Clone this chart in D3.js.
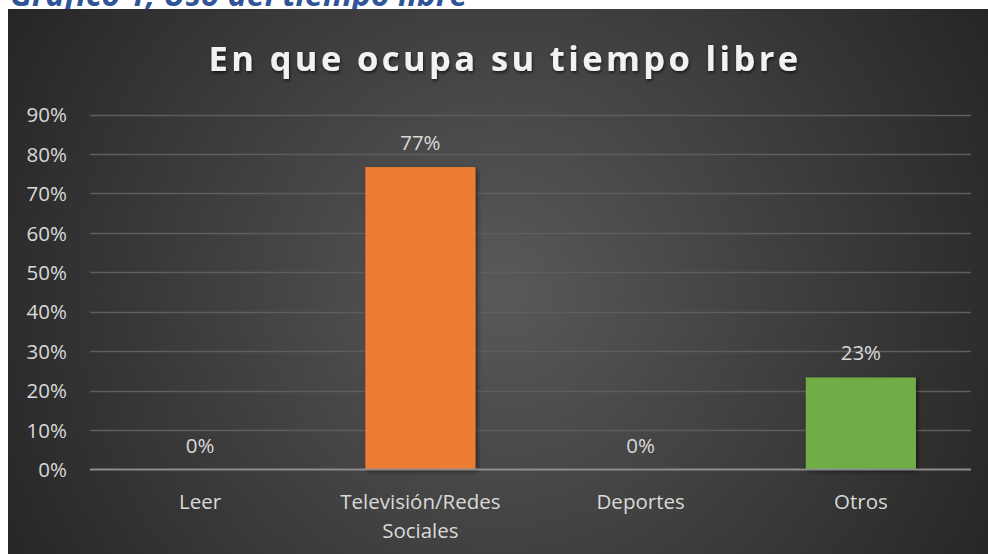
<!DOCTYPE html>
<html><head><meta charset="utf-8">
<script src="https://cdn.jsdelivr.net/npm/d3@7"></script>
<style>body{margin:0;background:#fff;}svg{display:block;}</style>
</head><body>
<script>
const categories = ["Leer", "Televisión/Redes Sociales", "Deportes", "Otros"];
const values = [0, 0.7667, 0, 0.2333];
const labels = ["0%", "77%", "0%", "23%"];
const colors = ["#4472C4", "#ED7D31", "#A5A5A5", "#70AD47"];
const yTicks = [0, 0.1, 0.2, 0.3, 0.4, 0.5, 0.6, 0.7, 0.8, 0.9];
const chartTitle = "En que ocupa su tiempo libre";
const caption = "Gráfico 1, Uso del tiempo libre";

const W = 988, H = 554;
const svg = d3.select("body").append("svg").attr("width", W).attr("height", H);
const defs = svg.append("defs");
const rg = defs.append("radialGradient").attr("id", "bg").attr("gradientUnits", "userSpaceOnUse")
  .attr("cx", 500).attr("cy", 290).attr("r", 560);
rg.append("stop").attr("offset", "0").attr("stop-color", "#595959");
rg.append("stop").attr("offset", "1").attr("stop-color", "#262626");
const sh = defs.append("filter").attr("id", "sh").attr("x", "-20%").attr("y", "-20%").attr("width", "140%").attr("height", "140%");
sh.append("feDropShadow").attr("dx", 2).attr("dy", 2).attr("stdDeviation", 2).attr("flood-color", "#000").attr("flood-opacity", 0.5);
const tsh = defs.append("filter").attr("id", "tsh").attr("x", "-10%").attr("y", "-30%").attr("width", "120%").attr("height", "160%");
tsh.append("feDropShadow").attr("dx", 1).attr("dy", 2).attr("stdDeviation", 1.5).attr("flood-color", "#000").attr("flood-opacity", 0.6);

// caption above chart (cut off at the top, as in the source)
svg.append("text").attr("x", 10).attr("y", 6)
  .attr("font-family", "'Open Sans', sans-serif").attr("font-size", 32).attr("font-weight", "bold")
  .attr("font-style", "italic").attr("fill", "#2F5597").text(caption);

svg.append("rect").attr("x", 8).attr("y", 9).attr("width", W - 8).attr("height", H - 9).attr("fill", "url(#bg)");

const x0 = 90, x1 = 971, yBase = 469.5, yTop = 114.5;
const x = d3.scaleBand().domain(categories).range([x0, x1]).paddingInner(0.5).paddingOuter(0.25);
const y = d3.scaleLinear().domain([0, 0.9]).range([yBase, yTop]);
const FS = 20.5;

// gridlines
svg.append("g").selectAll("line").data(yTicks.filter(d => d > 0)).join("line")
  .attr("x1", x0).attr("x2", x1).attr("y1", d => Math.round(y(d)) + 0.5).attr("y2", d => Math.round(y(d)) + 0.5)
  .attr("stroke", "#5e5e5e").attr("stroke-width", 1.3);

// y axis labels
const yAxis = d3.axisLeft(y).tickValues(yTicks).tickFormat(d3.format(".0%")).tickSize(0).tickPadding(0);
const ga = svg.append("g").attr("transform", "translate(67,0)").call(yAxis);
ga.select(".domain").remove();
ga.selectAll("text").attr("font-family", "'Open Sans', sans-serif").attr("font-size", FS).attr("fill", "#d9d9d9").attr("dy", "0.35em");

// bars
svg.append("g").selectAll("rect").data(categories).join("rect")
  .attr("x", d => x(d)).attr("width", x.bandwidth())
  .attr("y", (d, i) => y(values[i])).attr("height", (d, i) => yBase - y(values[i]))
  .attr("fill", (d, i) => colors[i]).attr("filter", "url(#sh)");

// axis line
svg.append("line").attr("x1", x0).attr("x2", x1).attr("y1", yBase).attr("y2", yBase)
  .attr("stroke", "#8c8c8c").attr("stroke-width", 2);

// value labels
svg.append("g").selectAll("text").data(categories).join("text")
  .attr("x", d => x(d) + x.bandwidth() / 2).attr("y", (d, i) => y(values[i]) - 17)
  .attr("text-anchor", "middle").attr("font-family", "'Open Sans', sans-serif").attr("font-size", FS)
  .attr("fill", "#d9d9d9").text((d, i) => labels[i]);

// category labels
const cl = svg.append("g").selectAll("text").data(categories).join("text")
  .attr("x", d => x(d) + x.bandwidth() / 2).attr("y", 509)
  .attr("text-anchor", "middle").attr("font-family", "'Open Sans', sans-serif").attr("font-size", FS)
  .attr("fill", "#d9d9d9");
cl.each(function(d) {
  const parts = d === "Televisión/Redes Sociales" ? ["Televisión/Redes", "Sociales"] : [d];
  const t = d3.select(this);
  parts.forEach((p, k) => t.append("tspan").attr("x", x(d) + x.bandwidth() / 2).attr("dy", k ? 29 : 0).text(p));
});

// title
svg.append("text").attr("x", 505).attr("y", 71).attr("text-anchor", "middle")
  .attr("font-family", "'Open Sans', sans-serif").attr("font-size", 34.5).attr("font-weight", "bold")
  .attr("letter-spacing", 3.4).attr("fill", "#f2f2f2").attr("filter", "url(#tsh)").text(chartTitle);
</script>
</body></html>
